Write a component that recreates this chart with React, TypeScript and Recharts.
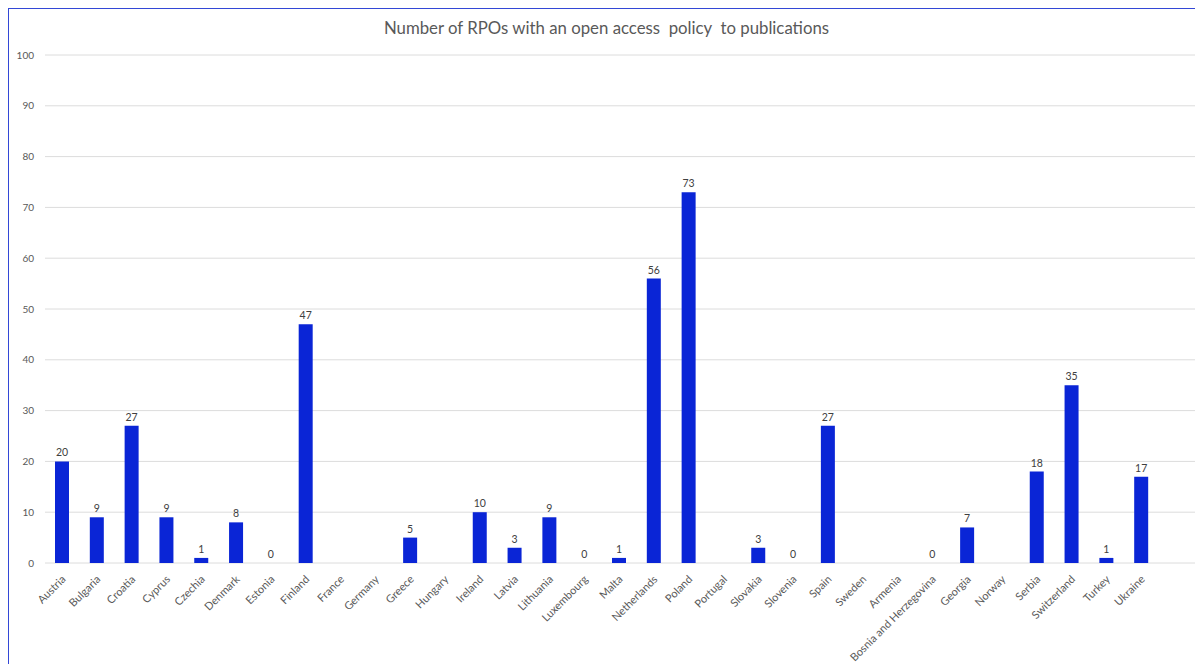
import { BarChart, Bar, CartesianGrid, XAxis, YAxis, LabelList } from 'recharts';

const countries = [
  'Austria', 'Bulgaria', 'Croatia', 'Cyprus', 'Czechia', 'Denmark', 'Estonia', 'Finland',
  'France', 'Germany', 'Greece', 'Hungary', 'Ireland', 'Latvia', 'Lithuania', 'Luxembourg',
  'Malta', 'Netherlands', 'Poland', 'Portugal', 'Slovakia', 'Slovenia', 'Spain', 'Sweden',
  'Armenia', 'Bosnia and Herzegovina', 'Georgia', 'Norway', 'Serbia', 'Switzerland', 'Turkey', 'Ukraine',
];

// null = no answer (no bar, no label)
const rpoCounts: (number | null)[] = [
  20, 9, 27, 9, 1, 8, 0, 47,
  null, null, 5, null, 10, 3, 9, 0,
  1, 56, 73, null, 3, 0, 27, null,
  null, 0, 7, null, 18, 35, 1, 17,
];

const yTicks = [0, 10, 20, 30, 40, 50, 60, 70, 80, 90, 100];

const data = countries.map((name, i) => ({
  name,
  value: rpoCounts[i],
  // tiny invisible cap stacked on each bar so zero values still get a label
  cap: rpoCounts[i] === null ? null : 0.001,
}));

const FONT = 'Lato, "Open Sans", sans-serif';

const CountryTick = (props: any) => {
  const { x, y, payload } = props;
  return (
    <text
      x={x + 4}
      y={y + 9}
      transform={`rotate(-45, ${x + 4}, ${y + 9})`}
      textAnchor="end"
      fontSize={11}
      fill="#595959"
      fontFamily={FONT}
    >
      {payload.value}
    </text>
  );
};

const App = () => {
  return (
    <div
      style={{
        position: 'relative',
        width: 1195,
        height: 656,
        borderLeft: '1.5px solid #3347d6',
        borderTop: '1.5px solid #3347d6',
        boxSizing: 'border-box',
        background: '#fff',
      }}
    >
      <div
        style={{
          position: 'absolute',
          top: 8,
          left: 0,
          width: 1195,
          textAlign: 'center',
          fontFamily: FONT,
          fontSize: 16.8,
          color: '#595959',
          whiteSpace: 'pre',
        }}
      >
        {'Number of RPOs with an open access  policy  to publications'}
      </div>
      <BarChart
        width={1194}
        height={654}
        data={data}
        margin={{ top: 46, right: 8, bottom: 0, left: 0 }}
      >
        <CartesianGrid vertical={false} stroke="#dcdcdc" />
        <XAxis
          dataKey="name"
          axisLine={false}
          tickLine={false}
          interval={0}
          height={100}
          padding={{ left: 0, right: 36 }}
          tick={<CountryTick />}
        />
        <YAxis
          domain={[0, 100]}
          ticks={yTicks}
          width={36}
          axisLine={false}
          tickLine={false}
          tickSize={0}
          tickMargin={11}
          allowDataOverflow
          tick={{ fontSize: 10, fill: '#595959', fontFamily: FONT }}
        />
        <Bar dataKey="value" stackId="s" fill="#0a25d6" barSize={14} isAnimationActive={false} />
        <Bar dataKey="cap" stackId="s" fill="transparent" barSize={14} isAnimationActive={false}>
          <LabelList
            valueAccessor={(entry: any) => entry?.payload?.value}
            position="top"
            offset={5}
            fontSize={10.5}
            fill="#404040"
            fontFamily={FONT}
          />
        </Bar>
      </BarChart>
    </div>
  );
};

export default App;
